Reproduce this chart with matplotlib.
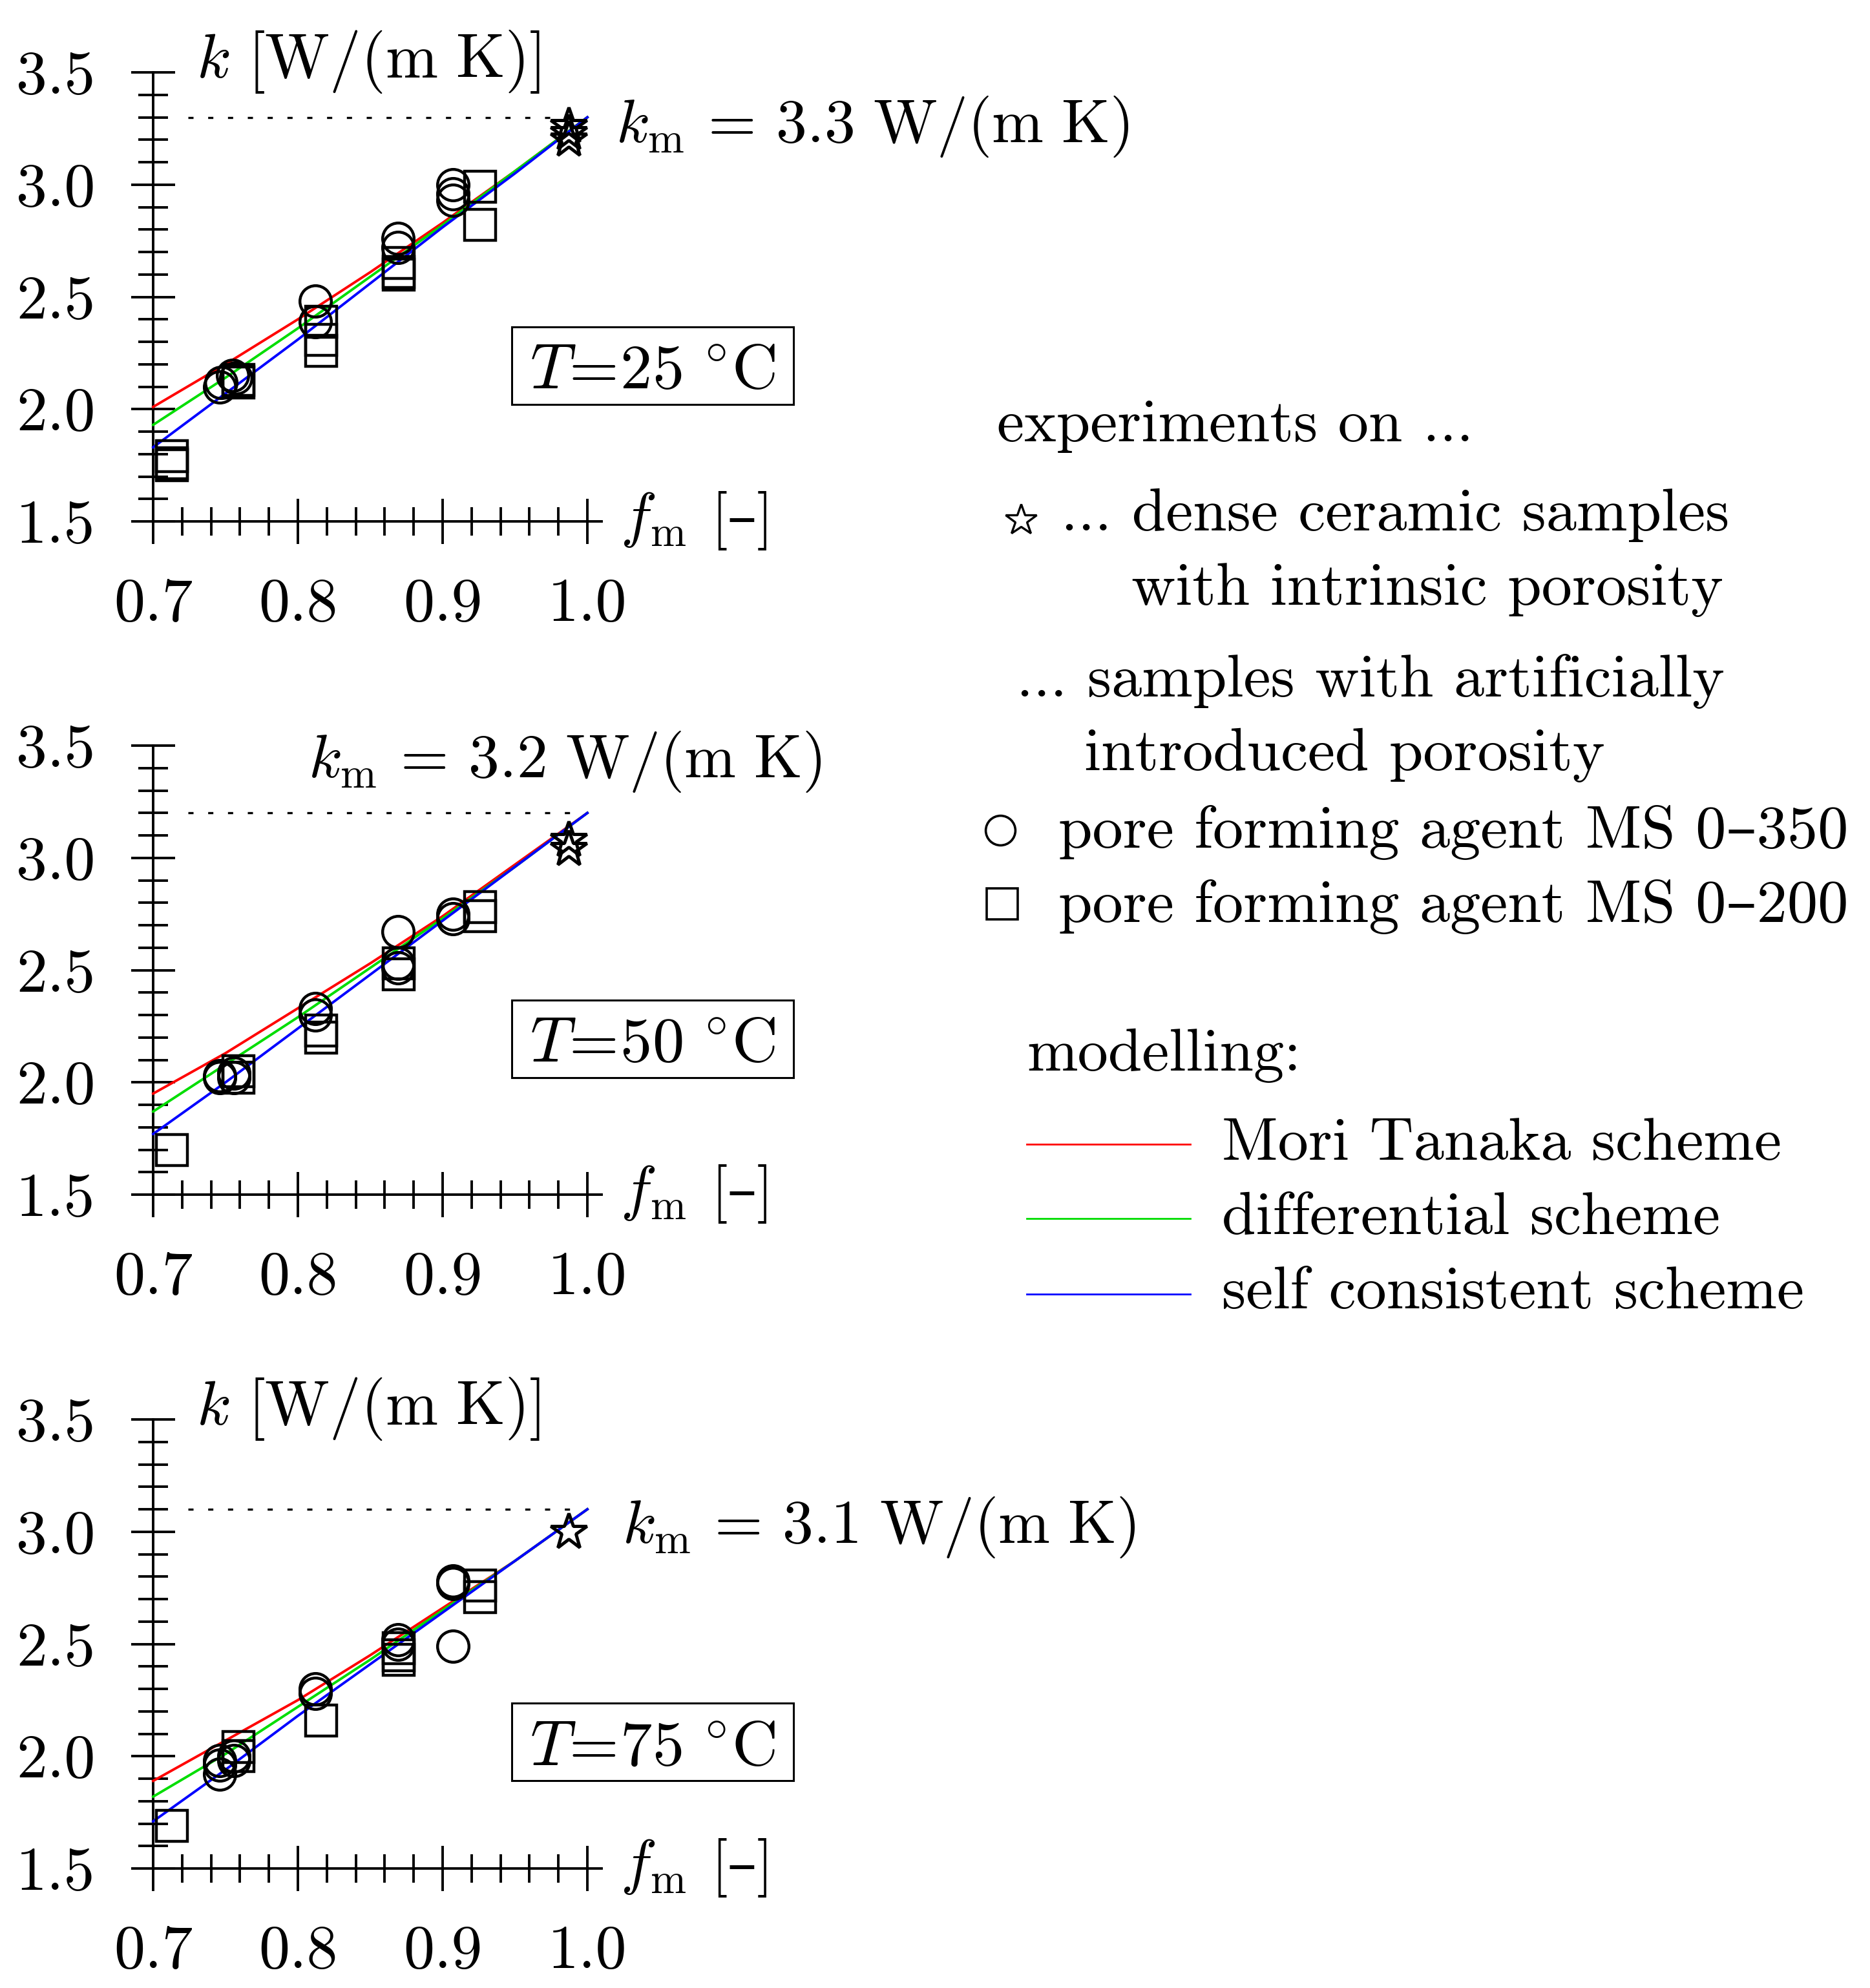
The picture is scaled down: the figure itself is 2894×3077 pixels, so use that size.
import matplotlib
matplotlib.use("Agg")
import matplotlib.pyplot as plt
from matplotlib.ticker import MultipleLocator
from matplotlib.patches import Rectangle

plt.rcParams['font.family'] = ['cmr10', 'DejaVu Serif']
plt.rcParams['mathtext.fontset'] = 'cm'
plt.rcParams['axes.formatter.use_mathtext'] = True
plt.rcParams['axes.unicode_minus'] = False

W, H, DPI = 2894, 3077, 200

# ---------------- data ----------------
temperatures = ['25', '50', '75']
k_matrix = [3.3, 3.2, 3.1]

y_ticks = [1.5, 2.0, 2.5, 3.0, 3.5]
y_tick_labels = ['1.5', '2.0', '2.5', '3.0', '3.5']
x_ticks = [0.7, 0.8, 0.9, 1.0]
x_tick_labels = ['0.7', '0.8', '0.9', '1.0']

f_model = [0.70, 0.75, 0.80, 0.85, 0.90, 0.95, 1.00]
mori_tanaka_25 = [2.01, 2.20, 2.40, 2.61, 2.83, 3.06, 3.30]
mori_tanaka_50 = [1.95, 2.13, 2.33, 2.53, 2.74, 2.97, 3.20]
mori_tanaka_75 = [1.89, 2.07, 2.25, 2.45, 2.66, 2.87, 3.10]
differential_25 = [1.93, 2.14, 2.36, 2.59, 2.82, 3.06, 3.30]
differential_50 = [1.87, 2.08, 2.29, 2.51, 2.73, 2.96, 3.20]
differential_75 = [1.82, 2.01, 2.22, 2.43, 2.65, 2.87, 3.10]
self_consistent_25 = [1.83, 2.07, 2.31, 2.56, 2.81, 3.05, 3.30]
self_consistent_50 = [1.77, 2.00, 2.24, 2.48, 2.72, 2.96, 3.20]
self_consistent_75 = [1.71, 1.94, 2.18, 2.41, 2.64, 2.87, 3.10]

circle_f_25 = [0.746, 0.747, 0.755, 0.757, 0.812, 0.812, 0.869, 0.869, 0.907, 0.907, 0.907]
circle_k_25 = [2.10, 2.12, 2.15, 2.14, 2.48, 2.39, 2.76, 2.72, 3.00, 2.96, 2.93]
square_f_25 = [0.713, 0.713, 0.713, 0.759, 0.759, 0.816, 0.816, 0.816, 0.8695, 0.8695, 0.8695, 0.926, 0.926]
square_k_25 = [1.79, 1.76, 1.75, 2.13, 2.12, 2.39, 2.31, 2.26, 2.65, 2.61, 2.60, 2.99, 2.82]
star_f_25 = [0.987, 0.987, 0.987]
star_k_25 = [3.26, 3.23, 3.20]

circle_f_50 = [0.746, 0.746, 0.756, 0.756, 0.812, 0.812, 0.869, 0.869, 0.869, 0.907, 0.907]
circle_k_50 = [2.02, 2.03, 2.02, 2.04, 2.33, 2.30, 2.67, 2.53, 2.51, 2.75, 2.73]
square_f_50 = [0.713, 0.759, 0.759, 0.816, 0.816, 0.8695, 0.8695, 0.926, 0.926]
square_k_50 = [1.70, 2.05, 2.02, 2.23, 2.20, 2.53, 2.48, 2.78, 2.74]
star_f_50 = [0.987, 0.987]
star_k_50 = [3.08, 3.04]

circle_f_75 = [0.746, 0.746, 0.746, 0.756, 0.756, 0.812, 0.812, 0.869, 0.869, 0.907, 0.907, 0.907]
circle_k_75 = [1.98, 1.96, 1.92, 2.00, 1.98, 2.30, 2.28, 2.52, 2.50, 2.78, 2.77, 2.49]
square_f_75 = [0.713, 0.759, 0.759, 0.816, 0.8695, 0.8695, 0.8695, 0.926, 0.926]
square_k_75 = [1.69, 2.04, 2.00, 2.16, 2.48, 2.45, 2.43, 2.76, 2.71]
star_f_75 = [0.987]
star_k_75 = [3.00]

model_names = ['Mori Tanaka scheme', 'differential scheme', 'self consistent scheme']
model_colors = ['#ff0000', '#00dd00', '#0000ff']

panels = [
    dict(mt=mori_tanaka_25, ds=differential_25, sc=self_consistent_25,
         cf=circle_f_25, ck=circle_k_25, sf=square_f_25, sk=square_k_25,
         stf=star_f_25, stk=star_k_25),
    dict(mt=mori_tanaka_50, ds=differential_50, sc=self_consistent_50,
         cf=circle_f_50, ck=circle_k_50, sf=square_f_50, sk=square_k_50,
         stf=star_f_50, stk=star_k_50),
    dict(mt=mori_tanaka_75, ds=differential_75, sc=self_consistent_75,
         cf=circle_f_75, ck=circle_k_75, sf=square_f_75, sk=square_k_75,
         stf=star_f_75, stk=star_k_75),
]

# ---------------- layout (pixels) ----------------
AX_X0, AX_X1 = 237, 909
panel_y = [(112, 807), (1154, 1849), (2197, 2892)]
km_text_pos = [(953, 220), (477, 1203), (963, 2388)]
k_label_pos = [(304, 120), None, (304, 2205)]
box_top = [506, 1548, 2636]
box_base = [601, 1643, 2731]
DOT_X0, DOT_X1 = 0.724, 0.99

TICK_FS = 34.5
LW_AX = 1.4

fig = plt.figure(figsize=(W / DPI, H / DPI), dpi=DPI)

for i, p in enumerate(panels):
    top, bot = panel_y[i]
    ax = fig.add_axes([AX_X0 / W, 1 - bot / H, (AX_X1 - AX_X0) / W, (bot - top) / H])
    ax.set_xlim(0.7, 1.0)
    ax.set_ylim(1.5, 3.5)
    ax.patch.set_visible(False)
    for s in ['top', 'right']:
        ax.spines[s].set_visible(False)
    ax.spines['left'].set_bounds(1.5, 3.5)
    ax.spines['bottom'].set_bounds(0.7, 1.01)
    for s in ['left', 'bottom']:
        ax.spines[s].set_linewidth(LW_AX)
    ax.set_xticks(x_ticks, x_tick_labels)
    ax.set_yticks(y_ticks, y_tick_labels)
    ax.xaxis.set_minor_locator(MultipleLocator(0.02))
    ax.yaxis.set_minor_locator(MultipleLocator(0.1))
    ax.tick_params(axis='x', which='major', direction='inout', length=25, width=LW_AX,
                   pad=19, labelsize=TICK_FS)
    ax.tick_params(axis='x', which='minor', direction='inout', length=16, width=LW_AX)
    ax.tick_params(axis='y', which='major', direction='inout', length=24.5, width=LW_AX,
                   pad=20, labelsize=TICK_FS)
    ax.tick_params(axis='y', which='minor', direction='inout', length=16.7, width=LW_AX)

    ax.hlines(k_matrix[i], DOT_X0, DOT_X1, colors='k', lw=1.2,
              linestyles=[(0, (2.4, 6.8))])

    for vals, col in zip([p['mt'], p['ds'], p['sc']], model_colors):
        ax.plot(f_model, vals, color=col, lw=1.4, clip_on=False, zorder=3)

    ax.plot(p['cf'], p['ck'], ls='none', marker='o', ms=17.5, mfc='none', mec='k',
            mew=1.6, clip_on=False, zorder=4)
    ax.plot(p['sf'], p['sk'], ls='none', marker='s', ms=17.5, mfc='none', mec='k',
            mew=1.6, clip_on=False, zorder=4)
    ax.plot(p['stf'], p['stk'], ls='none', marker='*', ms=21, mfc='none', mec='k',
            mew=1.8, clip_on=False, zorder=4)

# overlay axes in pixel coordinates for annotations / legend
lax = fig.add_axes([0, 0, 1, 1], zorder=5)
lax.set_xlim(0, W)
lax.set_ylim(H, 0)
lax.set_axis_off()

for i in range(3):
    top, bot = panel_y[i]
    x, y = km_text_pos[i]
    lax.text(x, y, r'$k_\mathrm{m}\,=\,%.1f\ \mathrm{W/(m\ K)}$' % k_matrix[i],
             fontsize=34.5, ha='left', va='baseline')
    if k_label_pos[i] is not None:
        x, y = k_label_pos[i]
        lax.text(x, y, r'$k\ [\mathrm{W/(m\ K)}]$', fontsize=35, ha='left', va='baseline')
    lax.text(960, bot + 22, r'$f_\mathrm{m}$', fontsize=34, ha='left', va='baseline')
    lax.text(1100, bot + 22, '[–]', fontsize=33, ha='left', va='baseline')
    lax.add_patch(Rectangle((792, box_top[i]), 436, 120, fill=False, ec='k', lw=1.1))
    lax.text(1010, box_base[i], r'$T\!=\!%s\ ^{\circ}\mathrm{C}$' % temperatures[i],
             fontsize=35.5, ha='center', va='baseline')

LEG_FS = 34
lax.text(1543, 683, 'experiments on ...', fontsize=LEG_FS, va='baseline')
lax.plot([1580], [805], marker='*', ms=18, mfc='none', mec='k', mew=1.2, ls='none')
lax.text(1642, 821, '... dense ceramic samples', fontsize=LEG_FS, va='baseline')
lax.text(1751, 936, 'with intrinsic porosity', fontsize=LEG_FS, va='baseline')
lax.text(1573, 1078, '... samples with artificially', fontsize=LEG_FS, va='baseline')
lax.text(1678, 1192, 'introduced porosity', fontsize=LEG_FS, va='baseline')
lax.plot([1548], [1285], marker='o', ms=16.5, mfc='none', mec='k', mew=1.3, ls='none')
lax.text(1638, 1312, 'pore forming agent MS 0–350', fontsize=LEG_FS, va='baseline')
lax.plot([1551], [1399], marker='s', ms=17, mfc='none', mec='k', mew=1.3, ls='none')
lax.text(1638, 1427, 'pore forming agent MS 0–200', fontsize=LEG_FS, va='baseline')
lax.text(1589, 1657, 'modelling:', fontsize=LEG_FS, va='baseline')
for name, col, ly, ty in zip(model_names, model_colors, [1771, 1886, 2003], [1795, 1910, 2025]):
    lax.plot([1589, 1842], [ly, ly], color=col, lw=1.0)
    lax.text(1891, ty, name, fontsize=LEG_FS, va='baseline')

fig.savefig('out.png', dpi=DPI)
